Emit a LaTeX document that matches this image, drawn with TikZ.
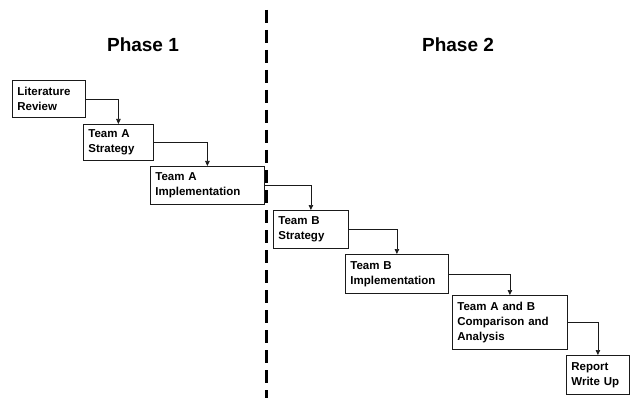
\documentclass[tikz,border=0pt]{standalone}
\usepackage{fontspec}
\setmainfont{Liberation Sans}
\usetikzlibrary{arrows.meta}
\definecolor{BoxLine}{HTML}{1A1A1A}

\begin{document}
\begin{tikzpicture}[
    x=1pt, y=-1pt,
    stage/.style={
      draw=BoxLine,
      line width=0.8pt,
      anchor=north west,
      inner xsep=5pt,
      inner ysep=2pt,
      align=left,
      font=\fontsize{11.5}{15}\selectfont\bfseries
    },
    phase/.style={
      font=\fontsize{19}{22}\selectfont\bfseries
    },
    flow/.style={
      draw=BoxLine,
      line width=0.7pt,
      -{Triangle[length=5pt,width=4.5pt]}
    }
  ]
  \useasboundingbox (0,0) rectangle (631,398);

  \node[phase] (phaseone) at (143,45) {Phase 1};
  \node[phase] (phasetwo) at (458,45) {Phase 2};

  \coordinate (splittop) at (266,10);
  \coordinate (splitbot) at (266,398);
  \draw[line width=3pt, dash pattern=on 13pt off 7pt] (splittop) -- (splitbot);

  \node[stage, text width=63pt, minimum height=37pt] (litreview) at (12,80) {Literature\\Review};
  \node[stage, text width=60pt, minimum height=36pt] (astrategy) at (83,124) {Team A\\Strategy};
  \node[stage, text width=104pt, minimum height=38pt] (aimpl) at (150,166) {Team A\\Implementation};
  \node[stage, text width=65pt, minimum height=38pt] (bstrategy) at (273,210) {Team B\\Strategy};
  \node[stage, text width=93pt, minimum height=39pt] (bimpl) at (345,254) {Team B\\Implementation};
  \node[stage, text width=105pt, minimum height=54pt] (compare) at (452,295) {Team A and B\\Comparison and\\Analysis};
  \node[stage, text width=53pt, minimum height=39pt] (report) at (566,355) {Report\\Write Up};

  \draw[flow] (litreview.east) -| (astrategy.north);
  \draw[flow] (astrategy.east) -| (aimpl.north);
  \draw[flow] (aimpl.east) -| (bstrategy.north);
  \draw[flow] (bstrategy.east) -| (bimpl.north);
  \draw[flow] (bimpl.east) -| (compare.north);
  \draw[flow] (compare.east) -| (report.north);
\end{tikzpicture}
\end{document}
